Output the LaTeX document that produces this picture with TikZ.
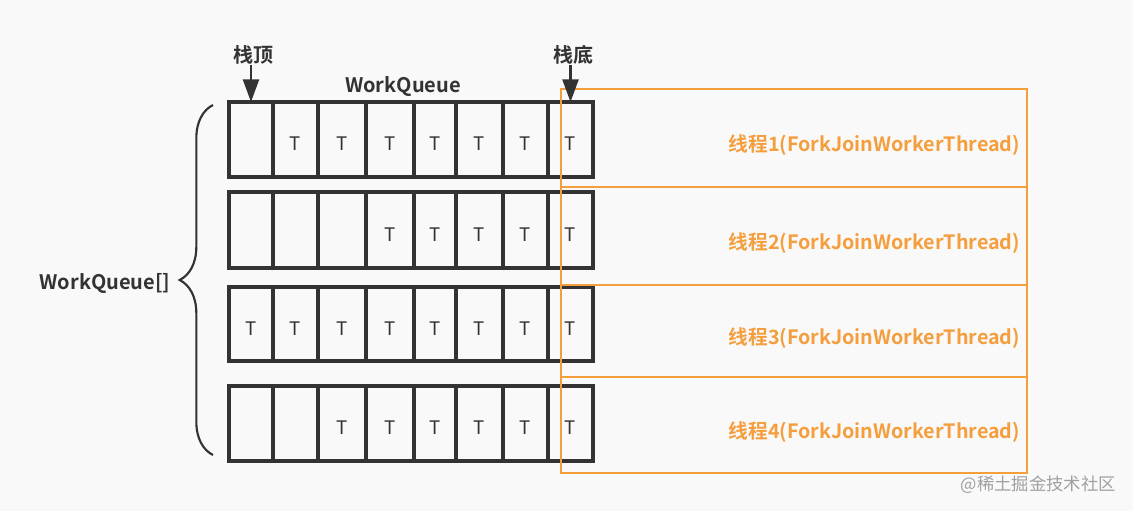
\documentclass[tikz,border=0pt]{standalone}
\usepackage{fontspec}
\setmainfont{Noto Sans CJK SC}[BoldFont={Noto Sans CJK SC Bold}]
\usetikzlibrary{arrows.meta, positioning, decorations.pathreplacing}
\definecolor{qdark}{RGB}{51,51,51}
\definecolor{qorange}{RGB}{245,158,61}
\definecolor{qbg}{RGB}{249,249,249}
\definecolor{qgray}{RGB}{160,160,160}
\tikzset{
  cell/.style={rectangle, draw=qdark, line width=2.3pt, inner sep=0pt, outer sep=0pt,
    font=\fontsize{14}{16}\selectfont, text=qdark},
  thread/.style={rectangle, draw=qorange, line width=2.1pt, inner sep=0pt,
    minimum width=349.5pt},
  tlabel/.style={font=\bfseries\fontsize{14.8}{17}\selectfont, text=qorange, inner sep=0pt},
  title/.style={font=\bfseries\fontsize{15}{17}\selectfont, text=qdark, inner sep=0pt},
  arrow/.style={-{Triangle[width=12pt, length=17pt]}, line width=1.8pt, color=qdark},
  brace/.style={decorate, decoration={brace, amplitude=25pt}, line width=1.6pt, color=qdark},
  watermark/.style={font=\fontsize{13}{15}\selectfont, text=qgray, inner sep=0pt}
}
\begin{document}
\begin{tikzpicture}[x=0.75pt, y=-0.75pt]
  \fill[qbg] (0,0) rectangle (1133,511);
  \useasboundingbox (0,0) rectangle (1133,511);

  % queues
  \foreach \ya/\yb/\first [count=\i] in {102/177/2, 192/268/4, 287/361/1, 386/461/3} {
    \foreach \xa/\xb [count=\j] in {229/273, 273/318, 318/366, 366/414, 414/456, 456/503, 503/548, 548/593} {
      \node[cell, minimum width={(\xb-\xa)*0.75pt}, minimum height={(\yb-\ya)*0.75pt}]
        (c-\i-\j) at ({(\xa+\xb)/2}, {(\ya+\yb)/2}) {\ifnum\j<\first\relax\else\smash{\raisebox{-8.5pt}{T}}\fi};
    }
  }

  % threads
  \foreach \ya/\yb [count=\i] in {89/187, 187/285, 285/377, 377/473} {
    \node[thread, minimum height={(\yb-\ya)*0.75pt}] (t\i) at (794, {(\ya+\yb)/2}) {};
    \node[tlabel, anchor=east] at ([shift={(-8,7)}]t\i.east) {线程\i(ForkJoinWorkerThread)};
  }

  \node[title] (wq) at (403,87) {WorkQueue};
  \node[title] (top) at (253,55) {栈顶};
  \node[title] (bottom) at (573,55) {栈底};
  \draw[arrow] (top.south -| c-1-1.north) -- (c-1-1.north);
  \draw[arrow] (bottom.south -| c-1-8.north) -- (c-1-8.north);

  \draw[brace] ([shift={(-16,-6)}]c-4-1.south west) -- ([shift={(-16,3)}]c-1-1.north west);
  \coordinate (tip) at (180,283);
  \node[title, left=7pt of tip] (arr) {WorkQueue[]};

  \node[watermark, anchor=east] (wm) at (1116,485) {@稀土掘金技术社区};
\end{tikzpicture}
\end{document}
